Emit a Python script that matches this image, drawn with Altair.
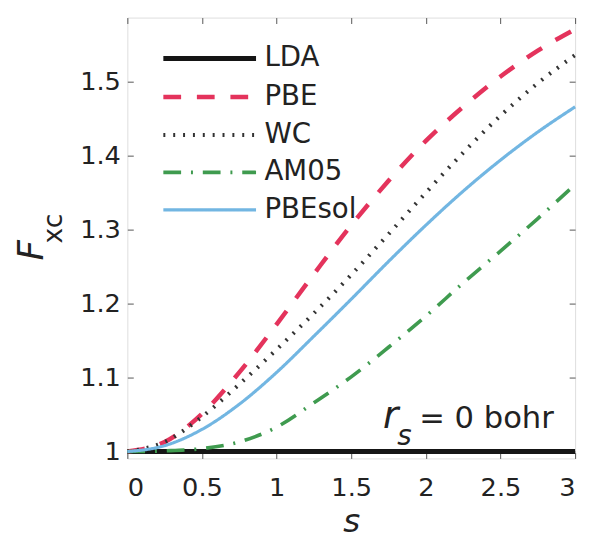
import altair as alt
import pandas as pd

# ---- data ----
s_values = [0.0, 0.25, 0.5, 0.75, 1.0, 1.25, 1.5, 1.75, 2.0, 2.25, 2.5, 2.75, 3.0]
lda    = [1.000, 1.000, 1.000, 1.000, 1.000, 1.000, 1.000, 1.000, 1.000, 1.000, 1.000, 1.000, 1.000]
pbe    = [1.000, 1.013, 1.051, 1.107, 1.172, 1.240, 1.306, 1.366, 1.420, 1.466, 1.507, 1.542, 1.571]
wc     = [1.000, 1.013, 1.047, 1.091, 1.138, 1.187, 1.239, 1.294, 1.350, 1.404, 1.454, 1.498, 1.536]
am05   = [1.000, 1.001, 1.004, 1.013, 1.033, 1.066, 1.101, 1.141, 1.183, 1.228, 1.271, 1.315, 1.361]
pbesol = [1.000, 1.008, 1.030, 1.064, 1.107, 1.156, 1.206, 1.257, 1.306, 1.352, 1.394, 1.432, 1.466]

methods = ["LDA", "PBE", "WC", "AM05", "PBEsol"]
series = [lda, pbe, wc, am05, pbesol]
colors = ["#151515", "#e4335c", "#333333", "#3f9b4f", "#72b6e2"]
dashes = [[1, 0], [18, 16], [2, 8], [18, 10, 2, 10], [1, 0]]
widths = [5, 3.2, 2.5, 3, 2.5]

x_ticks = [0, 0.5, 1, 1.5, 2, 2.5, 3]
y_ticks = [1.0, 1.1, 1.2, 1.3, 1.4, 1.5]

y_title_main = ["F"]
y_title_sub = ["xc"]
note_r = ["r"]
note_s = ["s"]
note_rest = ["= 0 bohr"]

rows = []
for m, vals in zip(methods, series):
    for s, f in zip(s_values, vals):
        rows.append({"s": s, "F": f, "method": m})
df = pd.DataFrame(rows)

FONT = "DejaVu Sans"
xscale = alt.Scale(domain=[0, 3], nice=False, zero=False)
yscale = alt.Scale(domain=[0.9907, 1.5867], nice=False, zero=False)

leg = alt.Legend(
    orient="none", legendX=69, legendY=27, title=None,
    symbolType="M-4,0H4", symbolSize=552, symbolFillColor="transparent",
    labelFont=FONT, labelFontSize=28, labelColor="#222",
    labelOffset=41, rowPadding=10, padding=0,
)

lines = alt.Chart(df).mark_line(interpolate="monotone").encode(
    x=alt.X("s:Q", scale=xscale, axis=alt.Axis(
        orient="bottom", values=x_ticks, format="~g", offset=-6, tickSize=6,
        domain=False, grid=False, tickColor="#555", labelFont=FONT,
        labelFontSize=26, labelColor="#222", labelPadding=17,
        title="s", titleFont=FONT, titleFontSize=33, titleFontStyle="italic",
        titleFontWeight="normal", titleColor="#222", titlePadding=5)),
    y=alt.Y("F:Q", scale=yscale, axis=alt.Axis(
        orient="left", values=y_ticks, format="~g", offset=-6, tickSize=6,
        domain=False, grid=False, tickColor="#555", labelFont=FONT,
        labelFontSize=26, labelColor="#222", labelPadding=7, title=None)),
    color=alt.Color("method:N", scale=alt.Scale(domain=methods, range=colors), legend=leg),
    strokeDash=alt.StrokeDash("method:N", scale=alt.Scale(domain=methods, range=dashes), legend=leg),
    strokeWidth=alt.StrokeWidth("method:N", scale=alt.Scale(domain=methods, range=widths), legend=leg),
    order=alt.Order("s:Q"),
)

frame_axes = alt.Chart(df).mark_line(opacity=0).encode(
    x=alt.X("s:Q", scale=xscale, axis=alt.Axis(
        orient="top", values=x_ticks, offset=-6, tickSize=6, domain=False,
        grid=False, labels=False, tickColor="#555", title=None)),
    y=alt.Y("F:Q", scale=yscale, axis=alt.Axis(
        orient="right", values=y_ticks, offset=-6, tickSize=6, domain=False,
        grid=False, labels=False, tickColor="#555", title=None)),
    detail="method:N",
)

def label(txt, x, y, size, style="normal", align="center", angle=0, baseline="alphabetic"):
    return alt.Chart(pd.DataFrame({"t": txt})).mark_text(
        font=FONT, fontSize=size, fontStyle=style, align=align, baseline=baseline,
        angle=angle, color="#222",
    ).encode(text="t:N", x=alt.value(x), y=alt.value(y))

yt1 = label(y_title_main, -97, 236, 36, style="italic", angle=270, baseline="middle")
yt2 = label(y_title_sub, -74, 214, 27, angle=270, baseline="middle")
n1 = label(note_r, 267, 416, 38, style="italic")
n2 = label(note_s, 281, 433, 28, style="italic")
n3 = label(note_rest, 296, 416, 31, align="left")

chart = alt.layer(lines, frame_axes, yt1, yt2, n1, n2, n3).resolve_axis(
    x="independent", y="independent"
).properties(
    width=454, height=447, autosize="none",
    padding={"left": 121, "top": 6, "right": 8, "bottom": 80},
).configure_view(stroke="#555", strokeWidth=1.5).configure(background="white")

chart.save("out.html", embed_options={"renderer": "svg", "actions": False})
